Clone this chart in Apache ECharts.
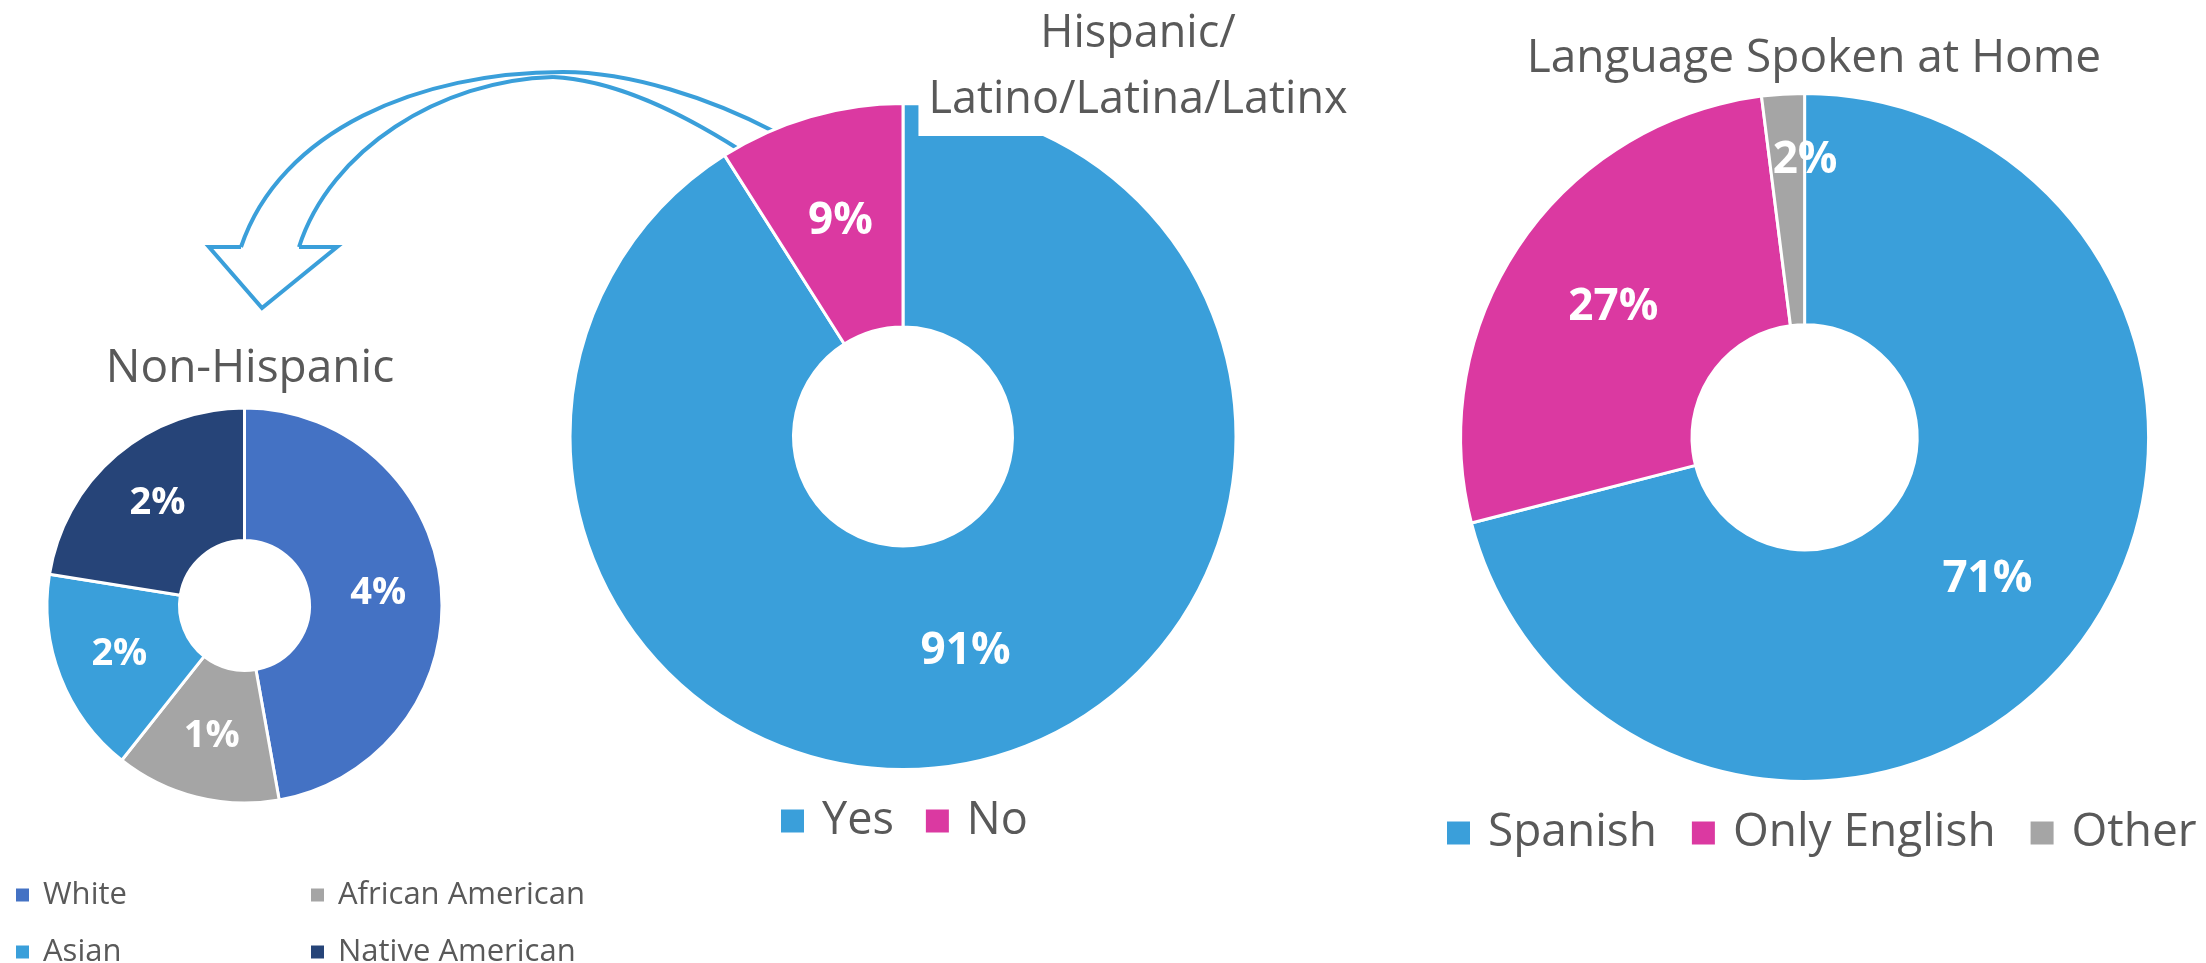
<!DOCTYPE html>
<html><head><meta charset="utf-8">
<script src="https://cdn.jsdelivr.net/npm/echarts@6/dist/echarts.min.js"></script>
<style>html,body{margin:0;padding:0;background:#fff;}#c{width:2206px;height:963px;}</style>
</head><body><div id="c"></div>
<script>
// ---- data ----
const raceCategories = ['White', 'African American', 'Asian', 'Native American'];
const raceValues = [4.2, 1.2, 1.5, 2.0];
const hispCategories = ['Yes', 'No'];
const hispValues = [91, 9];
const langCategories = ['Spanish', 'Only English', 'Other'];
const langValues = [71, 27, 2];

// ---- styles ----
const FONT = 'Open Sans';
const TXT = '#595959';
const raceColors = ['#4472C4', '#A5A5A5', '#3A9FDA', '#264478'];
const hispColors = ['#3A9FDA', '#DB39A1'];
const langColors = ['#3A9FDA', '#DB39A1', '#A5A5A5'];
const ARROW = '#3A9FDA';

function build(names, values, colors, extra) {
  return names.map((n, i) => Object.assign({
    name: n, value: values[i], itemStyle: { color: colors[i] }
  }, (extra && extra[i]) || {}));
}
const pct = p => Math.round(p.value) + '%';

const chart = echarts.init(document.getElementById('c'));
const pieBase = {
  type: 'pie', startAngle: 90, clockwise: true, animation: false,
  itemStyle: { borderColor: '#fff', borderWidth: 3 },
  labelLine: { show: false },
  emphasis: { disabled: true },
  z: 2
};
const arrowStyle = { fill: null, stroke: ARROW, lineWidth: 4, lineJoin: 'miter' };
function curve(x1, y1, c1x, c1y, c2x, c2y, x2, y2) {
  return { type: 'bezierCurve', z: 0, silent: true,
    shape: { x1: x1, y1: y1, cpx1: c1x, cpy1: c1y, cpx2: c2x, cpy2: c2y, x2: x2, y2: y2 },
    style: arrowStyle };
}
const smallLegendText = { fontFamily: FONT, fontSize: 31, color: TXT, lineHeight: 40, padding: [0, 0, 0, 8] };

chart.setOption({
  backgroundColor: '#fff',
  textStyle: { fontFamily: FONT },
  title: [
    { text: 'Non-Hispanic', left: 250, top: 342, textAlign: 'center', textVerticalAlign: 'top', padding: 0,
      textStyle: { fontFamily: FONT, fontSize: 46, fontWeight: 'normal', color: TXT, lineHeight: 54 } },
    { text: 'Hispanic/\nLatino/Latina/Latinx', left: 1128, top: 1, textAlign: 'center', textVerticalAlign: 'top',
      padding: [0, 10, 3, 10], backgroundColor: '#fff',
      textStyle: { fontFamily: FONT, fontSize: 45, fontWeight: 'normal', color: TXT, lineHeight: 66 } },
    { text: 'Language Spoken at Home', left: 1814, top: 32, textAlign: 'center', textVerticalAlign: 'top', padding: 0,
      textStyle: { fontFamily: FONT, fontSize: 46, fontWeight: 'normal', color: TXT, lineHeight: 54 } }
  ],
  legend: [
    { data: ['White', 'Asian'], orient: 'vertical', left: 14, top: 875, height: 140, padding: 0, itemGap: 17,
      itemWidth: 15, itemHeight: 15, icon: 'rect', selectedMode: false, textStyle: smallLegendText },
    { data: ['African American', 'Native American'], orient: 'vertical', left: 309, top: 875, height: 140, padding: 0, itemGap: 17,
      itemWidth: 15, itemHeight: 15, icon: 'rect', selectedMode: false, textStyle: smallLegendText },
    { data: hispCategories, orient: 'horizontal', left: 779, top: 796, padding: 0, itemGap: 30,
      itemWidth: 25, itemHeight: 25, icon: 'rect', selectedMode: false,
      textStyle: { fontFamily: FONT, fontSize: 45, color: TXT, lineHeight: 50, padding: [0, 0, 0, 12] } },
    { data: langCategories, orient: 'horizontal', left: 1445, top: 808, padding: 0, itemGap: 33,
      itemWidth: 25, itemHeight: 25, icon: 'rect', selectedMode: false,
      textStyle: { fontFamily: FONT, fontSize: 46, color: TXT, lineHeight: 50, padding: [0, 0, 0, 12] } }
  ],
  graphic: [
    curve(775, 132, 710, 98, 630, 72, 563, 72),
    curve(563, 72, 420, 72, 280, 130, 241, 247),
    { type: 'polyline', z: 0, silent: true,
      shape: { points: [[241, 247], [209, 247], [262, 308], [337, 247], [299, 247]] },
      style: arrowStyle },
    curve(299, 247, 330, 150, 440, 80, 553, 77),
    curve(553, 77, 615, 80, 680, 112, 740, 150)
  ],
  series: [
    Object.assign({}, pieBase, {
      name: 'Non-Hispanic', center: [244.5, 605.5], radius: [65, 197.5],
      label: { show: true, position: 'inside', formatter: pct, color: '#fff', fontFamily: FONT, fontWeight: 'bold', fontSize: 38 },
      data: build(raceCategories, raceValues, raceColors)
    }),
    Object.assign({}, pieBase, {
      name: 'Hispanic', center: [903, 436.5], radius: [109.5, 333],
      label: { show: true, position: 'inside', formatter: pct, color: '#fff', fontFamily: FONT, fontWeight: 'bold', fontSize: 44 },
      data: build(hispCategories, hispValues, hispColors)
    }),
    Object.assign({}, pieBase, {
      name: 'Language', center: [1804.6, 437.4], radius: [112.6, 344],
      label: { show: true, position: 'inside', formatter: pct, color: '#fff', fontFamily: FONT, fontWeight: 'bold', fontSize: 44 },
      data: build(langCategories, langValues, langColors, [null, null, {
        label: { formatter: p => Math.round(p.value) + '%\n \n ', lineHeight: 46, padding: [0, 0, 0, 30] }
      }])
    })
  ]
});
</script></body></html>
